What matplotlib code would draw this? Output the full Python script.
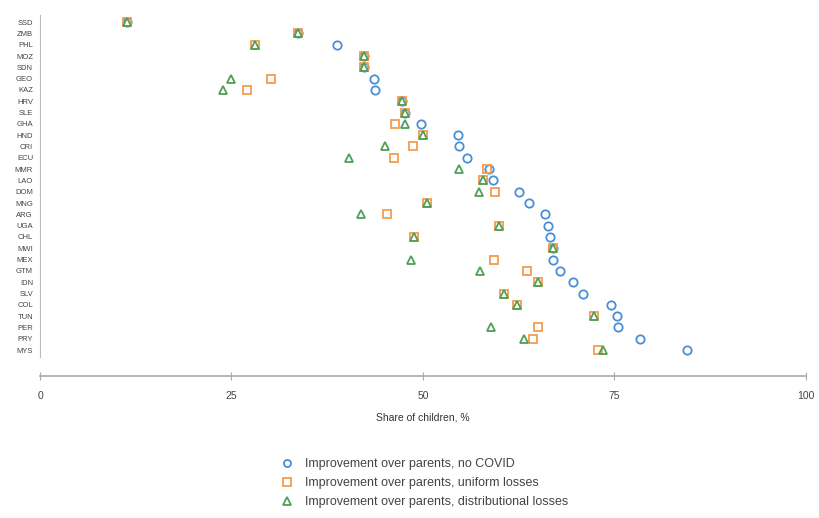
import numpy as np
import matplotlib.pyplot as plt

plt.rcParams['font.family'] = ['Liberation Sans', 'DejaVu Sans']

countries = ['SSD', 'ZMB', 'PHL', 'MOZ', 'SDN', 'GEO', 'KAZ', 'HRV', 'SLE', 'GHA',
             'HND', 'CRI', 'ECU', 'MMR', 'LAO', 'DOM', 'MNG', 'ARG', 'UGA', 'CHL',
             'MWI', 'MEX', 'GTM', 'IDN', 'SLV', 'COL', 'TUN', 'PER', 'PRY', 'MYS']

no_covid = [11.4, 33.7, 38.8, 42.3, 42.3, 43.6, 43.7, 47.3, 47.7, 49.7,
            54.6, 54.7, 55.7, 58.6, 59.1, 62.5, 63.8, 65.9, 66.3, 66.6,
            67.0, 67.0, 67.9, 69.6, 70.9, 74.5, 75.3, 75.5, 78.3, 84.5]

uniform = [11.4, 33.7, 28.1, 42.3, 42.3, 30.2, 27.0, 47.3, 47.7, 46.3,
           50.0, 48.7, 46.2, 58.3, 57.8, 59.4, 50.5, 45.3, 59.9, 48.8,
           67.0, 59.3, 63.6, 65.0, 60.6, 62.3, 72.3, 65.0, 64.4, 72.9]

distributional = [11.4, 33.7, 28.1, 42.3, 42.3, 24.9, 23.9, 47.3, 47.7, 47.7,
                  50.0, 45.0, 40.3, 54.7, 57.8, 57.3, 50.5, 41.9, 59.9, 48.8,
                  67.0, 48.4, 57.4, 65.0, 60.6, 62.3, 72.3, 58.9, 63.2, 73.5]

labels = ['Improvement over parents, no COVID',
          'Improvement over parents, uniform losses',
          'Improvement over parents, distributional losses']

y = np.arange(len(countries))

fig = plt.figure(figsize=(8.2, 5.18), dpi=100)
ax = fig.add_axes([0.0488, 0.274, 0.934, 0.703])

ax.plot(no_covid, y, 'o', ms=6, mfc='none', mec='#4a8fd6', mew=1.3, label=labels[0])
ax.plot(uniform, y, 's', ms=6, mfc='none', mec='#f39c4f', mew=1.3, label=labels[1])
ax.plot(distributional, y, '^', ms=6, mfc='none', mec='#4f9f57', mew=1.3, label=labels[2])

ax.set_xlim(0, 100)
ax.set_ylim(31.3, -0.9)
ax.set_xticks([0, 25, 50, 75, 100])
ax.set_yticks(y)
ax.set_yticklabels(countries, fontsize=5.5, color='#444444')
ax.tick_params(axis='y', length=0, pad=5)
ax.tick_params(axis='x', direction='inout', length=6, width=0.8, color='#aaaaaa',
               labelsize=7.5, labelcolor='#444444', pad=8)
ax.set_xlabel('Share of children, %', fontsize=7.5, color='#333333', labelpad=8)

for s in ['top', 'right']:
    ax.spines[s].set_visible(False)
ax.spines['left'].set_bounds(-0.6, 29.6)
ax.spines['left'].set_color('#bbbbbb')
ax.spines['bottom'].set_color('#aaaaaa')
ax.spines['bottom'].set_linewidth(1.2)

fig.legend(loc='upper center', bbox_to_anchor=(0.516, 0.137), frameon=False,
           fontsize=9, labelcolor='#444444', handlelength=1.4, handletextpad=0.7,
           labelspacing=0.55, markerscale=0.85)

fig.savefig('out.png', dpi=100)
